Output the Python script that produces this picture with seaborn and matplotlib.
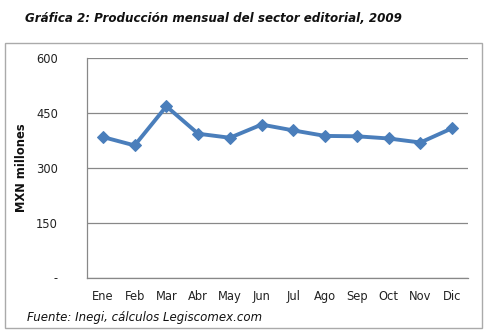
import matplotlib
matplotlib.use("Agg")
import matplotlib.pyplot as plt
import seaborn as sns
import pandas as pd
from matplotlib.patches import Rectangle

months = ["Ene", "Feb", "Mar", "Abr", "May", "Jun", "Jul", "Ago", "Sep", "Oct", "Nov", "Dic"]
values = [384, 361, 468, 393, 382, 418, 402, 387, 386, 380, 369, 408]
yticks = [0, 150, 300, 450, 600]
ytick_labels = ["-", "150", "300", "450", "600"]

sns.set_style("white")
plt.rcParams["font.family"] = ["DejaVu Sans"]

df = pd.DataFrame({"mes": months, "valor": values})

fig = plt.figure(figsize=(4.9, 3.33), dpi=100)
ax = fig.add_axes([87/490, 1-277.5/333, (468-87)/490, (277.5-58)/333])

x = list(range(len(months)))
df["x"] = x
sns.lineplot(data=df, x="x", y="valor", ax=ax, color="#4A7EBB", linewidth=2.8,
             marker="D", markersize=6, markeredgecolor="#4A7EBB")

ax.set_xlim(-0.5, len(months) - 0.5)
ax.set_ylim(0, 600)
ax.set_yticks(yticks)
ax.set_yticklabels(ytick_labels, fontsize=8.3, color="#222222")
ax.set_xticks(x)
ax.set_xticklabels(months, fontsize=8.3, color="#222222")
ax.tick_params(axis="x", length=0, pad=9)
ax.set_xticks([i - 0.5 for i in range(len(months) + 1)], minor=True)
ax.tick_params(axis="x", which="minor", length=4, color="#888888", direction="out")
ax.tick_params(axis="y", length=5, color="#888888", pad=16)
ax.yaxis.grid(True, color="#888888", linewidth=0.9)
ax.set_axisbelow(True)
for s in ["top", "right"]:
    ax.spines[s].set_visible(False)
for s in ["left", "bottom"]:
    ax.spines[s].set_color("#888888")
    ax.spines[s].set_linewidth(0.9)
ax.set_xlabel("")
ax.set_ylabel("MXN millones", fontsize=8.3, fontweight="bold", color="#111111", labelpad=6)

fig.patches.append(Rectangle((5/490, 1-327.5/333), (482-5)/490, (327.5-43)/333,
                             transform=fig.transFigure, fill=False,
                             edgecolor="#AAAAAA", linewidth=1))
fig.text(25/490, 1-18/333, "Gráfica 2: Producción mensual del sector editorial, 2009",
         fontsize=8.6, fontweight="bold", fontstyle="italic", va="center", ha="left", color="#111111")
fig.text(27/490, 1-318/333, "Fuente: Inegi, cálculos Legiscomex.com",
         fontsize=8.5, fontstyle="italic", va="center", ha="left", color="#111111")

fig.savefig("out.png", dpi=100)
